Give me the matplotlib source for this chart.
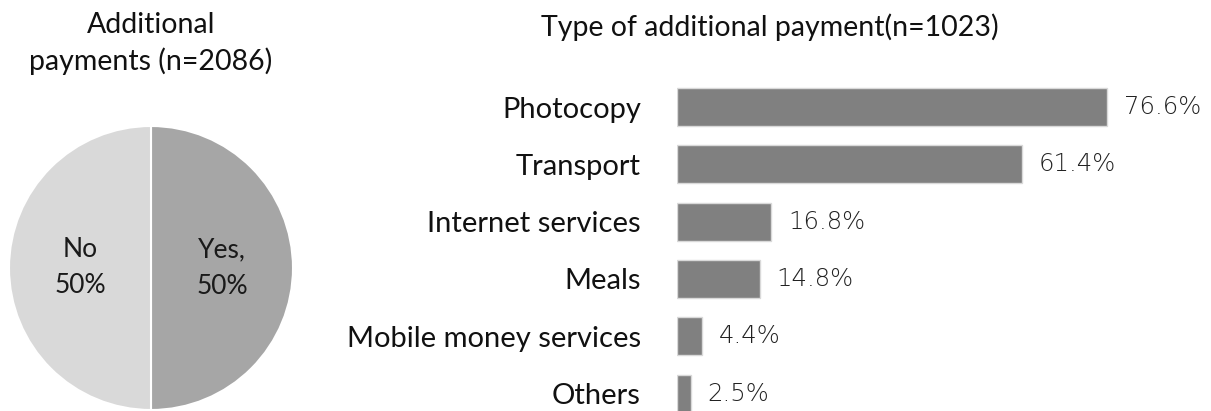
import matplotlib
matplotlib.use("Agg")
import matplotlib.pyplot as plt

# %% Data
pie_labels = ["Yes,", "No"]
pie_values = [50, 50]
pie_colors = ["#a6a6a6", "#d9d9d9"]

categories = ["Photocopy", "Transport", "Internet services", "Meals",
              "Mobile money services", "Others"]
shares = [76.6, 61.4, 16.8, 14.8, 4.4, 2.5]

W, H = 1211, 411
plt.rcParams["font.family"] = ["Lato", "DejaVu Sans"]

fig = plt.figure(figsize=(W / 100, H / 100), dpi=100)


def px_box(x0, y0, w, h):
    # pixel box (top-left origin) -> figure fraction
    return [x0 / W, 1 - (y0 + h) / H, w / W, h / H]


# %% Pie
r = 142
ax_pie = fig.add_axes(px_box(151 - r, 268 - r, 2 * r, 2 * r))
wedges, texts = ax_pie.pie(
    pie_values, labels=[f"{l}\n{v}%" for l, v in zip(pie_labels, pie_values)],
    colors=pie_colors, startangle=90, counterclock=False, labeldistance=0.5,
    wedgeprops=dict(edgecolor="white", linewidth=1.5),
    textprops=dict(fontsize=19, color="#1a1a1a"))
for t in texts:
    t.set_ha("center")
    t.set_multialignment("center")
    t.set_linespacing(1.55)
ax_pie.set_xlim(-1, 1)
ax_pie.set_ylim(-1, 1)
ax_pie.set_aspect("equal")
ax_pie.axis("off")

fig.text(151 / W, 1 - 33 / H, "Additional", ha="center", va="baseline",
         fontsize=20.5, color="#111111")
fig.text(151 / W, 1 - 70 / H, "payments (n=2086)", ha="center",
         va="baseline", fontsize=20.5, color="#111111")

# %% Bars
top, pitch = 107, 57.3
ax = fig.add_axes(px_box(677, top - pitch / 2, 561.3, pitch * 6))
y = range(len(categories))
ax.barh(y, shares, height=0.66, color="#808080", edgecolor="#d9d9d9",
        linewidth=1)
for yi, v in zip(y, shares):
    ax.annotate(f"{v}%", (v, yi), xytext=(12, 0), textcoords="offset points",
                va="center", ha="left", fontsize=17.5, color="#222222",
                family="DejaVu Sans", fontweight="light")
ax.set_xlim(0, 100)
ax.set_ylim(len(categories) - 0.5, -0.5)
ax.set_yticks(list(y), categories, fontsize=21, color="#111111")
ax.tick_params(axis="y", length=0, pad=26)
ax.set_xticks([])
for s in ax.spines.values():
    s.set_visible(False)

fig.text(770 / W, 1 - 36 / H, "Type of additional payment(n=1023)",
         ha="center", va="baseline", fontsize=20.5, color="#111111")

fig.savefig("out.png", dpi=100)
